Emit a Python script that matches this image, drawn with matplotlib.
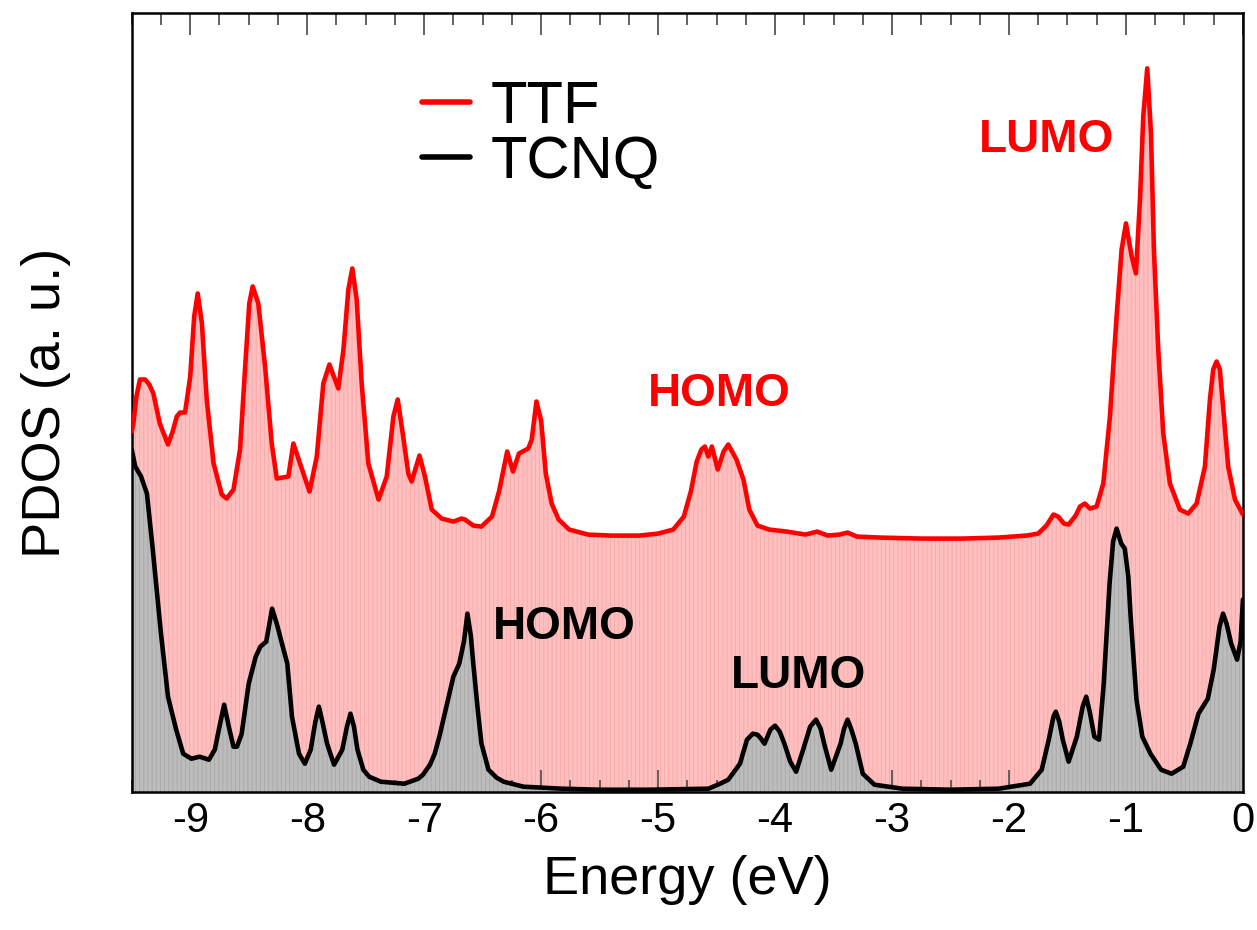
import matplotlib
matplotlib.use("Agg")
import matplotlib.pyplot as plt
from matplotlib.ticker import MultipleLocator, NullLocator

plt.rcParams['font.family'] = ['Liberation Sans', 'DejaVu Sans']
plt.rcParams['axes.unicode_minus'] = False
plt.rcParams['hatch.linewidth'] = 0.6

# TTF projected DOS (offset upward), energy in eV
ttf_e = [-9.50, -9.486, -9.46, -9.43, -9.386, -9.35, -9.315, -9.26, -9.19, -9.15,
         -9.115, -9.087, -9.044, -9.00, -8.966, -8.936, -8.90, -8.859, -8.80, -8.73,
         -8.688, -8.63, -8.574, -8.53, -8.495, -8.466, -8.418, -8.36, -8.303, -8.26,
         -8.161, -8.118, -8.061, -7.98, -7.918, -7.862, -7.81, -7.734, -7.69, -7.648,
         -7.614, -7.577, -7.534, -7.477, -7.39, -7.32, -7.263, -7.226, -7.183, -7.135,
         -7.107, -7.04, -6.993, -6.935, -6.85,
         -6.75, -6.68, -6.65, -6.58, -6.51, -6.42, -6.36, -6.29, -6.24, -6.19,
         -6.11, -6.08, -6.04, -6.00, -5.96, -5.91, -5.85, -5.76, -5.60, -5.40,
         -5.16, -5.00, -4.87, -4.78, -4.72, -4.67, -4.63, -4.60, -4.57, -4.54,
         -4.49, -4.44, -4.40, -4.33, -4.27, -4.22, -4.15, -4.05, -3.90, -3.74,
         -3.64, -3.55, -3.45, -3.38, -3.30, -3.10, -2.75, -2.40, -2.09, -1.85,
         -1.75, -1.68, -1.62, -1.58, -1.53, -1.49, -1.43, -1.393, -1.351, -1.308,
         -1.251, -1.194, -1.137, -1.08, -1.037, -1.00, -0.951, -0.915, -0.88, -0.852,
         -0.818, -0.786, -0.761, -0.724, -0.681, -0.624, -0.539, -0.468, -0.396, -0.325,
         -0.282, -0.254, -0.225, -0.197, -0.168, -0.126, -0.068, 0.00]
ttf_dos = [360, 368, 395, 412, 412, 407, 398, 368, 347, 360,
           375, 379, 379, 415, 475, 498, 468, 392, 328, 297,
           293, 302, 342, 425, 488, 505, 488, 425, 348, 313,
           315, 348, 328, 300, 335, 408, 427, 403, 442, 502,
           523, 492, 408, 328, 292, 315, 375, 392, 358, 318,
           310, 336, 315, 282, 273,
           270, 273, 272, 266, 265, 275, 300, 340, 320, 338,
           343, 352, 390, 371, 318, 288, 272, 262, 257, 256,
           256, 258, 262, 275, 300, 330, 342, 345, 335, 345,
           322, 340, 347, 332, 312, 282, 266, 262, 260, 257,
           260, 256, 257, 259, 255, 254, 253, 253, 254, 256,
           258, 266, 277, 275, 268, 267, 276, 285, 288, 283,
           285, 308, 375, 475, 542, 568, 535, 518, 592, 675,
           723, 658, 542, 442, 358, 308, 282, 278, 288, 325,
           392, 422, 430, 422, 382, 325, 292, 277]

# TCNQ projected DOS
tcnq_e = [-9.50, -9.47, -9.42, -9.37, -9.32, -9.25, -9.19, -9.12, -9.06, -8.99,
          -8.92, -8.84, -8.79, -8.75, -8.71, -8.67, -8.63, -8.60, -8.56, -8.50,
          -8.44, -8.40, -8.35, -8.30, -8.26, -8.22, -8.17, -8.13, -8.07, -8.02,
          -7.97, -7.93, -7.90, -7.87, -7.83, -7.77, -7.70, -7.66, -7.63, -7.60,
          -7.57, -7.52, -7.47, -7.37, -7.17, -7.05, -7.01, -6.95, -6.91, -6.87,
          -6.83, -6.79, -6.75, -6.70, -6.66, -6.63, -6.60, -6.58, -6.54, -6.51,
          -6.45, -6.38, -6.32, -6.15, -5.82, -5.50, -5.07, -4.57, -4.47, -4.40,
          -4.30, -4.24, -4.19, -4.15, -4.12, -4.09, -4.04, -4.00, -3.96, -3.92,
          -3.87, -3.82, -3.76, -3.70, -3.65, -3.61, -3.58, -3.52, -3.44, -3.41,
          -3.38, -3.35, -3.31, -3.25, -3.15, -2.91, -2.50, -2.09, -1.82, -1.72,
          -1.66, -1.62, -1.60, -1.57, -1.54, -1.49, -1.42, -1.37, -1.34, -1.31,
          -1.27, -1.23, -1.19, -1.14, -1.11, -1.08, -1.04, -1.01, -0.98, -0.96,
          -0.91, -0.86, -0.79, -0.70, -0.61, -0.51, -0.45, -0.38, -0.30, -0.25,
          -0.20, -0.17, -0.14, -0.10, -0.05, -0.02, 0.00]
tcnq_dos = [342, 325, 315, 298, 242, 158, 95, 62, 38, 33,
            35, 32, 42, 65, 87, 65, 45, 45, 58, 108,
            135, 145, 150, 183, 168, 150, 128, 75, 38, 28,
            42, 70, 85, 70, 48, 27, 42, 65, 78, 65,
            42, 22, 15, 10, 8, 13, 17, 27, 38, 55,
            75, 95, 115, 128, 150, 178, 155, 128, 80, 48,
            22, 14, 10, 5, 3, 2, 2, 3, 8, 12,
            28, 52, 58, 57, 53, 48, 62, 66, 60, 48,
            30, 20, 42, 65, 72, 63, 48, 22, 48, 63,
            72, 63, 48, 18, 7, 3, 2, 3, 8, 22,
            52, 75, 80, 70, 52, 30, 55, 85, 95, 80,
            55, 52, 108, 208, 250, 263, 248, 243, 215, 175,
            92, 55, 38, 22, 18, 25, 48, 78, 93, 122,
            165, 178, 168, 148, 132, 150, 192]

series_labels = ['TTF', 'TCNQ']
x_ticks = [-9, -8, -7, -6, -5, -4, -3, -2, -1, 0]

fig = plt.figure(figsize=(12.57, 9.30), dpi=100)
ax = fig.add_axes([0.1048, 0.1487, 0.884, 0.837])

ax.fill_between(ttf_e, ttf_dos, 0, facecolor='#ffbfbf', edgecolor='#f7aaaa',
                hatch='||||', linewidth=0, zorder=1)
ax.fill_between(tcnq_e, tcnq_dos, 0, facecolor='#bcbcbc', edgecolor='#a8a8a8',
                hatch='||||', linewidth=0, zorder=2)
ax.plot(ttf_e, ttf_dos, color='#ff0000', lw=3.3, label=series_labels[0],
        zorder=3, solid_joinstyle='round', solid_capstyle='round')
ax.plot(tcnq_e, tcnq_dos, color='black', lw=3.3, label=series_labels[1],
        zorder=4, solid_joinstyle='round', solid_capstyle='round')

ax.set_xlim(-9.5, 0)
ax.set_ylim(0, 778)
ax.set_xticks(x_ticks)
ax.set_xticklabels([str(t) for t in x_ticks])
ax.xaxis.set_minor_locator(MultipleLocator(0.25))
ax.yaxis.set_major_locator(NullLocator())
ax.tick_params(axis='x', which='major', direction='in', length=16, width=1.3,
               top=True, bottom=True, labelsize=30, pad=7, color='#555555')
ax.tick_params(axis='x', which='minor', direction='in', length=8.5, width=1.3,
               top=True, bottom=True, color='#555555')
for s in ax.spines.values():
    s.set_linewidth(1.8)

ax.set_xlabel('Energy (eV)', fontsize=39, labelpad=10)
ax.set_ylabel('PDOS (a. u.)', fontsize=39, labelpad=44)

ax.text(-4.48, 397, 'HOMO', color='#ff0000', fontsize=33, fontweight='bold',
        ha='center', va='center')
ax.text(-1.68, 651, 'LUMO', color='#ff0000', fontsize=33, fontweight='bold',
        ha='center', va='center')
ax.text(-5.80, 165, 'HOMO', color='black', fontsize=33, fontweight='bold',
        ha='center', va='center')
ax.text(-3.80, 116, 'LUMO', color='black', fontsize=33, fontweight='bold',
        ha='center', va='center')

leg = ax.legend(loc='upper left', bbox_to_anchor=(0.24, 0.945), frameon=False,
                fontsize=43, handlelength=0.8, handletextpad=0.35,
                labelspacing=0.0, borderaxespad=0)
for line in leg.get_lines():
    line.set_linewidth(4)

fig.savefig('out.png', dpi=100)
